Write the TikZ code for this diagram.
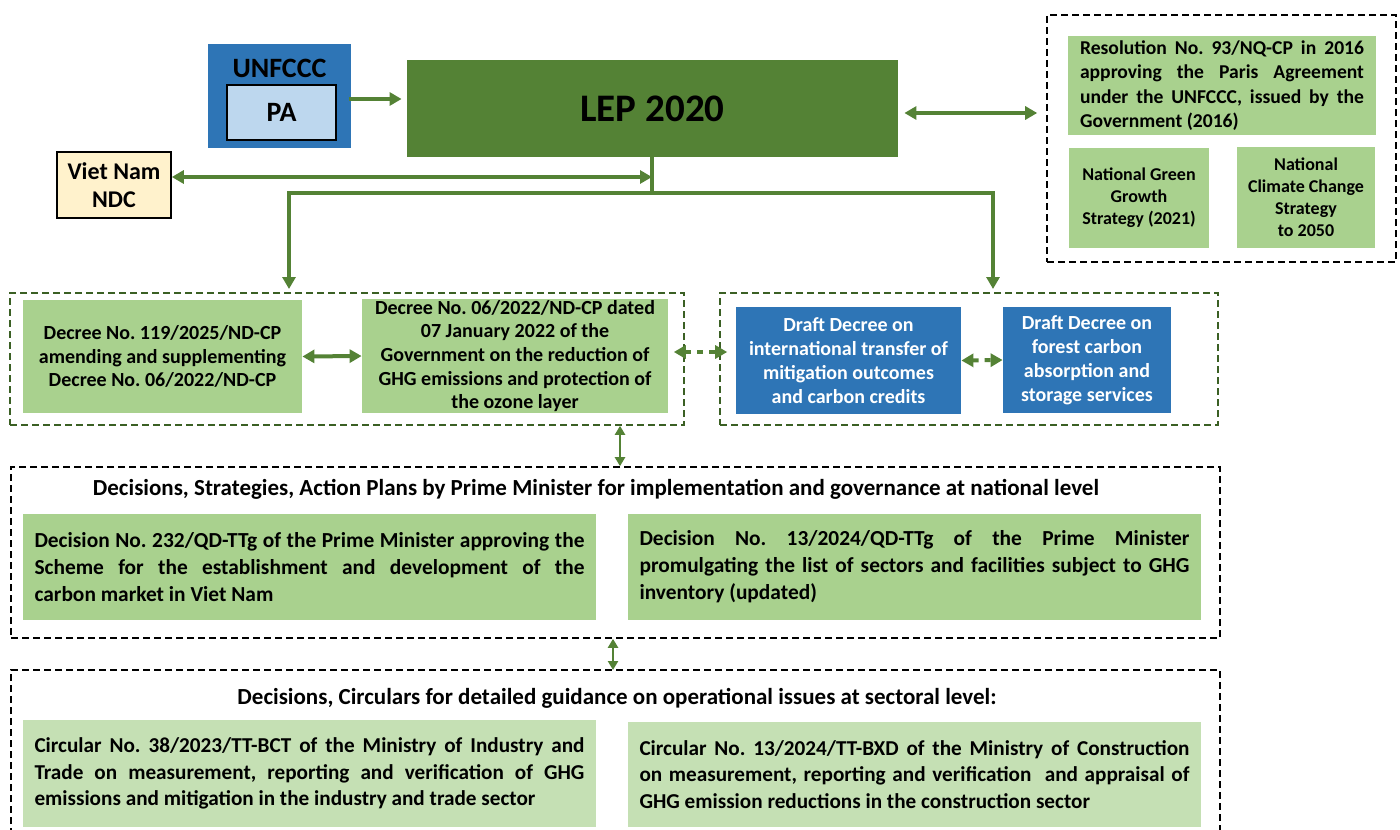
\documentclass[tikz,border=0pt]{standalone}
\usepackage{fontspec}
\setmainfont{Carlito}
\usetikzlibrary{arrows.meta,positioning}
\definecolor{leaf}{HTML}{548235}
\definecolor{darkleaf}{HTML}{3B6024}
\definecolor{sage}{HTML}{A9D18E}
\definecolor{palesage}{HTML}{C5E0B4}
\definecolor{ocean}{HTML}{2E75B6}
\definecolor{sky}{HTML}{BDD7EE}
\definecolor{cream}{HTML}{FFF2CC}
\hyphenpenalty=10000
\exhyphenpenalty=10000
\frenchspacing

\begin{document}
\begin{tikzpicture}[
  x=0.5pt,y=-0.5pt,
  >={Triangle[length=6pt,width=6.5pt]},
  doc/.style={inner sep=0pt,align=center,font=\bfseries\fontsize{10}{11.8}\selectfont},
  law/.style={doc,fill=sage},
  draft/.style={doc,fill=ocean,text=white,font=\bfseries\fontsize{10}{12}\selectfont},
  plan/.style={doc,fill=sage,align=justify,text width=275pt,minimum width=286.5pt,minimum height=53pt,font=\bfseries\fontsize{10.7}{13.5}\selectfont},
  heading/.style={doc,font=\bfseries\fontsize{11.5}{13}\selectfont},
  grp/.style={draw=black,dashed,line width=0.8pt,dash pattern=on 3.5pt off 2pt},
  ggrp/.style={grp,draw=darkleaf},
  flow/.style={leaf,line width=2pt},
  fine/.style={leaf,line width=1.4pt,>={Triangle[length=4.5pt,width=5pt]}},
  dots/.style={flow,dash pattern=on 3pt off 3pt}
]
  \useasboundingbox (0,0) rectangle (1400,829);

  % sources on top
  \node[fill=ocean,minimum width=71.5pt,minimum height=52pt,inner sep=0pt] (unfccc) at (279.5,96) {};
  \node[font=\bfseries\fontsize{14}{15}\selectfont,below=4pt of unfccc.north] (unfcccname) {UNFCCC};
  \node[draw=black,thick,fill=sky,minimum width=54.5pt,minimum height=27.5pt,inner sep=0pt,
        font=\bfseries\fontsize{14}{15}\selectfont] (pa) at (281.5,112.5) {PA};
  \node[fill=leaf,minimum width=245.5pt,minimum height=48.5pt,inner sep=0pt,
        font=\bfseries\fontsize{19.5}{22}\selectfont] (lep) at (652.5,108.5) {LEP 2020};
  \node[draw=black,thick,fill=cream,minimum width=57pt,minimum height=33pt,inner sep=0pt,
        font=\bfseries\fontsize{12}{14}\selectfont,align=center] (ndc) at (114,185) {Viet Nam\\NDC};

  % national documents, top right
  \node[grp,minimum width=174.5pt,minimum height=123.5pt] (topgrp) at (1221.5,138.5) {};
  \node[law,minimum width=154pt,minimum height=49.5pt,text width=142pt,align=justify,
        font=\bfseries\fontsize{9.8}{12.2}\selectfont] (res) at (1222,85.5)
    {Resolution No. 93/NQ-CP in 2016\linebreak approving the Paris Agreement\linebreak under the UNFCCC, issued by the\linebreak Government (2016)};
  \node[law,minimum width=70pt,minimum height=50pt,font=\bfseries\fontsize{9}{11}\selectfont] (ngg) at (1139,198)
    {National Green\\Growth\\Strategy (2021)};
  \node[law,minimum width=69pt,minimum height=50.5pt,font=\bfseries\fontsize{9}{11}\selectfont] (ncc) at (1306,197.5)
    {National\\Climate Change\\Strategy\\to 2050};

  % decrees
  \node[ggrp,minimum width=337pt,minimum height=66pt] (decgrp) at (347,359) {};
  \node[law,minimum width=139.5pt,minimum height=56.5pt] (dec119) at (162.5,356.5)
    {Decree No. 119/2025/ND-CP\\amending and supplementing\\Decree No. 06/2022/ND-CP};
  \node[law,minimum width=153pt,minimum height=57pt] (dec06) at (515,356)
    {Decree No. 06/2022/ND-CP dated\\07 January 2022 of the\\Government on the reduction of\\GHG emissions and protection of\\the ozone layer};
  \node[ggrp,minimum width=249pt,minimum height=66pt] (draftgrp) at (969,359) {};
  \node[draft,minimum width=112.5pt,minimum height=53.5pt] (draft1) at (848.5,360.5)
    {Draft Decree on\\international transfer of\\mitigation outcomes\\and carbon credits};
  \node[draft,minimum width=84pt,minimum height=53pt] (draft2) at (1087,360)
    {Draft Decree on\\forest carbon\\absorption and\\storage services};

  % national level
  \node[grp,minimum width=604.5pt,minimum height=85.5pt] (natgrp) at (615.5,552.5) {};
  \node[heading] (nattitle) at (596,489)
    {Decisions, Strategies, Action Plans by Prime Minister for implementation and governance at national level};
  \node[plan] (dec232) at (309.5,567)
    {Decision No. 232/QD-TTg of the Prime Minister approving the\linebreak Scheme for the establishment and development of the\linebreak carbon market in Viet Nam};
  \node[plan] (dec13) at (914.5,567)
    {Decision No. 13/2024/QD-TTg of the Prime Minister\linebreak promulgating the list of sectors and facilities subject to GHG\linebreak inventory (updated)};

  % sectoral level
  \draw[grp] (11,835) -- (11,670) -- (1220,670) -- (1220,835);
  \node[heading] (sectitle) at (617,698)
    {Decisions, Circulars for detailed guidance on operational issues at sectoral level:};
  \node[plan,fill=palesage,minimum height=53.5pt,font=\bfseries\fontsize{10.6}{13.3}\selectfont] (cir38) at (309.5,773.5)
    {Circular No. 38/2023/TT-BCT of the Ministry of Industry and\linebreak Trade on measurement, reporting and verification of GHG\linebreak emissions and mitigation in the industry and trade sector};
  \node[plan,fill=palesage,minimum height=52.5pt,font=\bfseries\fontsize{10.6}{13.3}\selectfont] (cir13) at (914.5,774.5)
    {Circular No. 13/2024/TT-BXD of the Ministry of Construction\linebreak on measurement, reporting and verification\ \ and appraisal of\linebreak GHG emission reductions in the construction sector};

  % connectors
  \coordinate (hub) at (652,193);
  \coordinate (ndcin) at (652,177);
  \coordinate (decin) at (289,289);
  \coordinate (draftin) at (993,289);
  \coordinate (natin) at (620,0);
  \coordinate (secin) at (613,670);
  \draw[flow,->,shorten <=6pt,shorten >=2.5pt] ([yshift=6.75pt]pa.east) -- ([yshift=6.75pt]pa.east -| lep.west);
  \draw[flow,<->,shorten <=3pt,shorten >=4.5pt] ([yshift=-2.25pt]lep.east) -- ([yshift=-2.25pt]lep.east -| topgrp.west);
  \draw[flow] (lep.south -| hub) -- (hub);
  \draw[flow,<->] (ndc.east |- ndcin) -- (ndcin);
  \draw[flow,->] (hub) -| (decin);
  \draw[flow,->] (hub) -| (draftin);
  \draw[flow,<->] (dec119.east) -- (dec06.west);
  \draw[dots,<->,shorten <=-5.5pt,shorten >=-4pt] ([yshift=3.5pt]decgrp.east) -- ([yshift=3.5pt]draftgrp.west);
  \draw[dots,<->] (draft1.east) -- (draft2.west);
  \draw[fine,<->] (decgrp.south -| natin) -- (natgrp.north -| natin);
  \draw[fine,<->] (natgrp.south -| secin) -- (secin);
\end{tikzpicture}
\end{document}
